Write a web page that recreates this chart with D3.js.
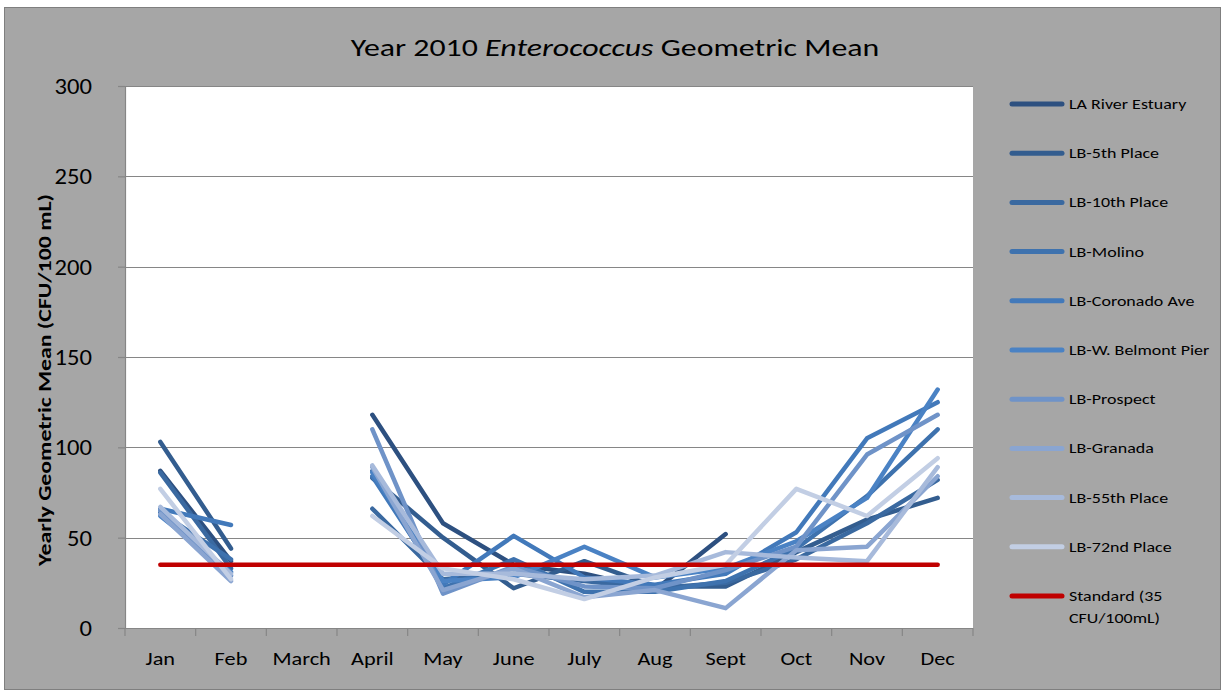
<!DOCTYPE html>
<html>
<head>
<meta charset="utf-8">
<script src="https://cdn.jsdelivr.net/npm/d3@7"></script>
<style>
  html, body { margin: 0; padding: 0; background: #ffffff; }
  svg { display: block; }
  text { font-family: Carlito, Lato, "Liberation Sans", sans-serif; fill: #000; }
</style>
</head>
<body>
<svg id="chart" width="1224" height="695"></svg>
<script>
// Months on the category axis
const months = ["Jan", "Feb", "March", "April", "May", "June", "July", "Aug", "Sept", "Oct", "Nov", "Dec"];

// Monitoring stations, in legend order
const stations = ["LA River Estuary", "LB-5th Place", "LB-10th Place", "LB-Molino", "LB-Coronado Ave",
  "LB-W. Belmont Pier", "LB-Prospect", "LB-Granada", "LB-55th Place", "LB-72nd Place"];

// Monthly geometric means (CFU/100 mL); null = no samples that month
const laRiverEstuary = [87, 37, null, 118, 58, 35, 30, 21, 52, null, null, null];
const lb5thPlace     = [103, 44, null, 83, 50, 22, 37, 23, 23, 42, 60, 72];
const lb10thPlace    = [86, 33, null, 66, 27, 30, 26, 22, 25, 38, 58, 82];
const lbMolino       = [64, 38, null, 87, 22, 38, 20, 20, 26, 44, 73, 110];
const lbCoronadoAve  = [66, 57, null, 84, 24, 51, 28, 24, 30, 53, 105, 125];
const lbWBelmontPier = [62, 31, null, 86, 26, 28, 45, 28, 33, 48, 72, 132];
const lbProspect     = [65, 29, null, 110, 19, 34, 23, 22, 32, 45, 96, 118];
const lbGranada      = [63, 26, null, 89, 21, 33, 17, 21, 11, 43, 45, 84];
const lb55thPlace    = [67, 30, null, 90, 30, 30, 27, 29, 42, 39, 37, 89];
const lb72ndPlace    = [77, 27, null, 62, 33, 27, 16, 28, 35, 77, 62, 94];

const stationValues = [laRiverEstuary, lb5thPlace, lb10thPlace, lbMolino, lbCoronadoAve,
  lbWBelmontPier, lbProspect, lbGranada, lb55thPlace, lb72ndPlace];

// Water-quality standard
const standardLabel = ["Standard (35", "CFU/100mL)"];
const standardValue = 35;

const yTicks = [0, 50, 100, 150, 200, 250, 300];

const stationColors = ["#2d5080", "#335d8f", "#3a69a0", "#3e72ae", "#4279ba", "#4a82c4",
  "#6f93c8", "#8aa5d1", "#a7badb", "#c2cee4"];
const standardColor = "#c00000";

const svg = d3.select("#chart");

// Horizontal text, widened slightly about its anchor point
function wideText(parent, x, y, str, size, sx, anchor) {
  return parent.append("text")
    .attr("transform", `translate(${x},${y}) scale(${sx},1)`)
    .attr("text-anchor", anchor || "start")
    .attr("font-size", size)
    .text(str);
}

// Chart frame
svg.append("rect")
  .attr("x", 4.5).attr("y", 7.5).attr("width", 1216).attr("height", 682)
  .attr("fill", "#a6a6a6").attr("stroke", "#7f7f7f").attr("stroke-width", 1);

const plot = { left: 125, right: 973, top: 86, bottom: 628 };

const x = d3.scaleBand().domain(months).range([plot.left, plot.right]);
const y = d3.scaleLinear().domain([0, 300]).range([plot.bottom, plot.top]);
const cx = m => x(m) + x.bandwidth() / 2;

// Plot area
svg.append("rect")
  .attr("x", plot.left).attr("y", plot.top)
  .attr("width", plot.right - plot.left).attr("height", plot.bottom - plot.top)
  .attr("fill", "#ffffff");

// Horizontal gridlines
svg.append("g").selectAll("line")
  .data(yTicks.filter(t => t > 0))
  .join("line")
  .attr("x1", plot.left).attr("x2", plot.right)
  .attr("y1", d => Math.round(y(d)) + 0.5).attr("y2", d => Math.round(y(d)) + 0.5)
  .attr("stroke", "#868686").attr("stroke-width", 1.2);

// Y axis
const yAxis = svg.append("g")
  .attr("transform", `translate(${plot.left},0)`)
  .call(d3.axisLeft(y).tickValues(yTicks).tickSize(7).tickFormat("").tickSizeOuter(0));
yAxis.select(".domain").attr("stroke", "#868686").attr("stroke-width", 1.2);
yAxis.selectAll(".tick line").attr("stroke", "#868686").attr("stroke-width", 1.2);
yTicks.forEach(t => wideText(svg, 92, y(t) + 8, String(t), 22, 1.12, "end"));

// X axis, ticks between categories
const xAxis = svg.append("g")
  .attr("transform", `translate(0,${plot.bottom})`);
xAxis.append("line")
  .attr("x1", plot.left).attr("x2", plot.right).attr("y1", 0.5).attr("y2", 0.5)
  .attr("stroke", "#868686").attr("stroke-width", 1.2);
xAxis.selectAll("line.tick")
  .data(months.concat([null]))
  .join("line").attr("class", "tick")
  .attr("x1", (d, i) => plot.left + i * x.bandwidth())
  .attr("x2", (d, i) => plot.left + i * x.bandwidth())
  .attr("y1", 0).attr("y2", 8)
  .attr("stroke", "#868686").attr("stroke-width", 1.2);
months.forEach(m => wideText(xAxis, cx(m), 37, m, 18, 1.24, "middle"));

// Y axis title
svg.append("text")
  .attr("transform", `translate(51,380) rotate(-90)`)
  .attr("text-anchor", "middle").attr("font-size", 17.5).attr("font-weight", "bold")
  .attr("textLength", 372).attr("lengthAdjust", "spacingAndGlyphs")
  .text("Yearly Geometric Mean (CFU/100 mL)");

// Title
const title = svg.append("text")
  .attr("transform", "translate(615,56) scale(1.3,1)")
  .attr("text-anchor", "middle").attr("font-size", 24.5);
title.append("tspan").text("Year 2010 ");
title.append("tspan").attr("font-style", "italic").text("Enterococcus");
title.append("tspan").text(" Geometric Mean");

// Station lines
const line = d3.line()
  .defined(d => d.v != null)
  .x(d => cx(d.m))
  .y(d => y(d.v));

svg.append("g").selectAll("path")
  .data(stationValues.map((vals, i) => ({ name: stations[i], color: stationColors[i],
    pts: vals.map((v, j) => ({ m: months[j], v })) })))
  .join("path")
  .attr("d", d => line(d.pts))
  .attr("fill", "none")
  .attr("stroke", d => d.color)
  .attr("stroke-width", 4.5)
  .attr("stroke-linecap", "round")
  .attr("stroke-linejoin", "round");

// Standard line
svg.append("path")
  .attr("d", line(months.map(m => ({ m, v: standardValue }))))
  .attr("fill", "none").attr("stroke", standardColor)
  .attr("stroke-width", 4.5).attr("stroke-linecap", "round");

// Legend
const legend = svg.append("g");
const legendItems = stations.map((s, i) => ({ label: [s], color: stationColors[i] }))
  .concat([{ label: standardLabel, color: standardColor }]);
const legendTop = 104, legendStep = 49.2;
legendItems.forEach((it, i) => {
  const yy = legendTop + i * legendStep;
  legend.append("line")
    .attr("x1", 1012).attr("x2", 1062).attr("y1", yy).attr("y2", yy)
    .attr("stroke", it.color).attr("stroke-width", 5).attr("stroke-linecap", "round");
  it.label.forEach((l, k) => wideText(legend, 1069, yy + 5 + k * 22, l, 14.5, 1.24, "start"));
});
</script>
</body>
</html>
